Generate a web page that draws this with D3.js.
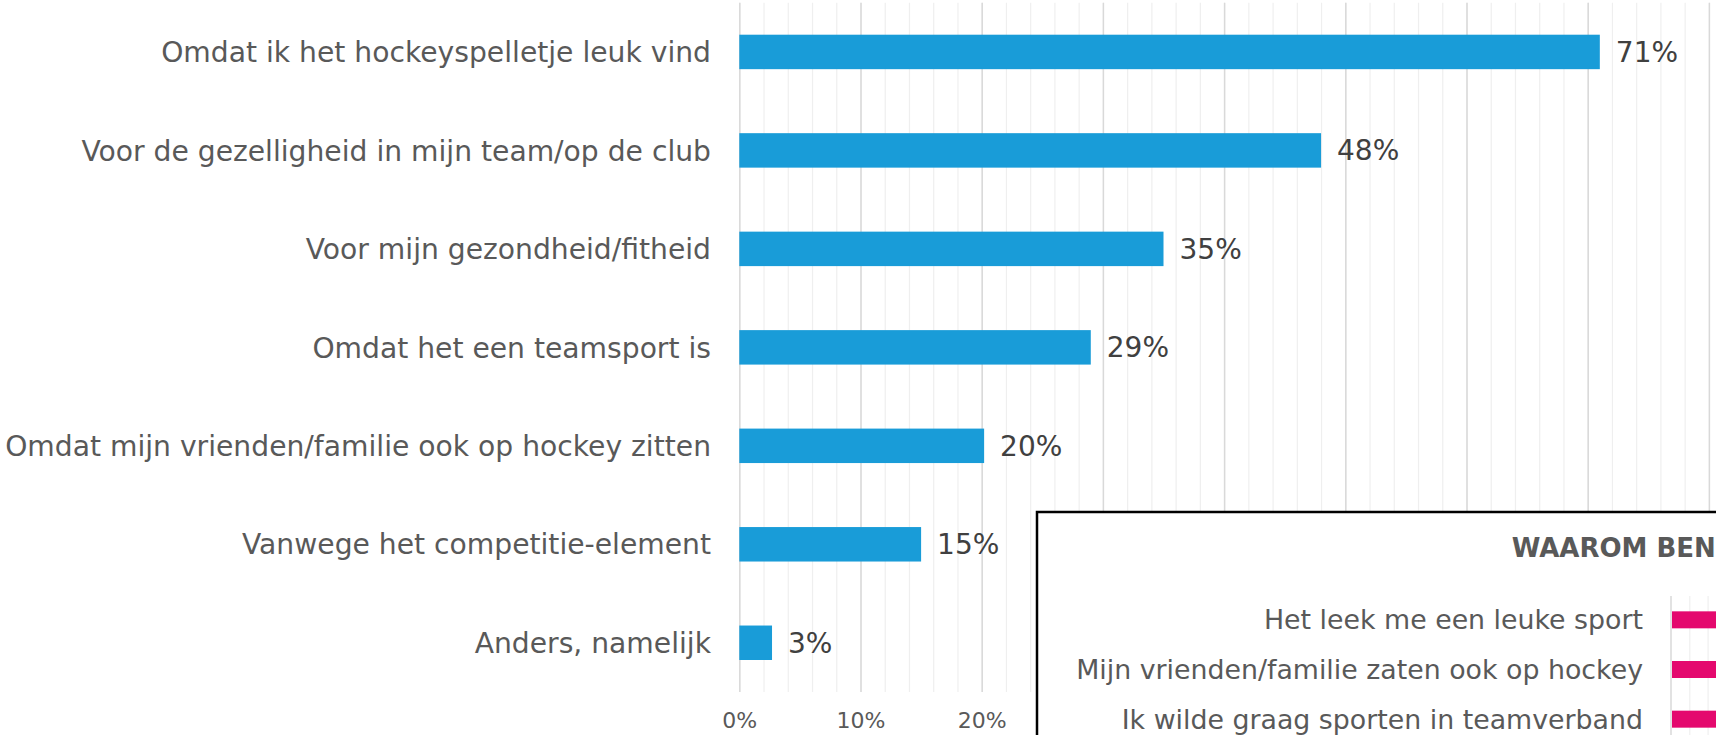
<!DOCTYPE html>
<html>
<head>
<meta charset="utf-8">
<script src="https://cdn.jsdelivr.net/npm/d3@7"></script>
<style>
  body { margin: 0; background: #fff; }
  svg { display: block; font-family: "DejaVu Sans", Verdana, sans-serif; }
</style>
</head>
<body>
<svg id="chart" width="1716" height="735"></svg>
<script>
// main chart data
const reasons = [
  "Omdat ik het hockeyspelletje leuk vind",
  "Voor de gezelligheid in mijn team/op de club",
  "Voor mijn gezondheid/fitheid",
  "Omdat het een teamsport is",
  "Omdat mijn vrienden/familie ook op hockey zitten",
  "Vanwege het competitie-element",
  "Anders, namelijk"
];
const reasonValues = [71, 48, 35, 29, 20.2, 15, 2.7];
const gridTicks = [0, 10, 20, 30, 40, 50, 60, 70, 80, 90, 100];
// only these tick labels are visible, the rest sit behind the inset panel
const tickLabels = ["0%", "10%", "20%"];

// inset chart data (mostly cut off at the right edge)
const insetTitle = "WAAROM BEN JIJ GAAN HOCKEYEN?";
const insetReasons = [
  "Het leek me een leuke sport",
  "Mijn vrienden/familie zaten ook op hockey",
  "Ik wilde graag sporten in teamverband"
];
const insetValues = [55, 40, 30];

const svg = d3.select("#chart");

const x = d3.scaleLinear().domain([0, 100]).range([739.3, 739.3 + 1212]);
const y = d3.scaleBand()
  .domain(reasons)
  .range([2.7, 692])
  .paddingInner(0.65)
  .paddingOuter(0.325);

// minor gridlines every 2%
svg.append("g")
  .attr("transform", "translate(0,692)")
  .call(d3.axisBottom(x).tickValues(d3.range(0, 101, 2)).tickSize(-689.3).tickFormat(""))
  .call(g => g.select(".domain").remove())
  .call(g => g.selectAll("line").attr("stroke", "#efefef").attr("stroke-width", 1.2));

// major gridlines
svg.append("g")
  .attr("transform", "translate(0,692)")
  .call(d3.axisBottom(x).tickValues(gridTicks).tickSize(-689.3).tickFormat(""))
  .call(g => g.select(".domain").remove())
  .call(g => g.selectAll("line").attr("stroke", "#d9d9d9").attr("stroke-width", 1.5));

// tick labels
svg.append("g")
  .attr("transform", "translate(0,692)")
  .call(d3.axisBottom(x).tickValues([0, 10, 20]).tickSize(0).tickPadding(20)
    .tickFormat((d, i) => tickLabels[i]))
  .call(g => g.select(".domain").remove())
  .call(g => g.selectAll("text")
    .attr("fill", "#595959")
    .style("font-size", "22px")
    .style("font-family", "DejaVu Sans"));

// bars
svg.append("g")
  .selectAll("rect")
  .data(reasonValues)
  .enter()
  .append("rect")
  .attr("x", x(0))
  .attr("y", (d, i) => y(reasons[i]))
  .attr("width", d => x(d) - x(0))
  .attr("height", y.bandwidth())
  .attr("fill", "#199cd8");

// value labels
svg.append("g")
  .selectAll("text")
  .data(reasonValues)
  .enter()
  .append("text")
  .attr("x", d => x(d) + 16)
  .attr("y", (d, i) => y(reasons[i]) + y.bandwidth() / 2)
  .attr("dy", "0.36em")
  .attr("fill", "#404040")
  .style("font-size", "28px")
  .text(d => Math.round(d) + "%");

// category labels
svg.append("g")
  .selectAll("text")
  .data(reasons)
  .enter()
  .append("text")
  .attr("x", 711)
  .attr("y", d => y(d) + y.bandwidth() / 2)
  .attr("dy", "0.36em")
  .attr("text-anchor", "end")
  .attr("fill", "#595959")
  .style("font-size", "28.2px")
  .text(d => d);

// inset panel
svg.append("rect")
  .attr("x", 1037)
  .attr("y", 512)
  .attr("width", 720)
  .attr("height", 260)
  .attr("fill", "#fff")
  .attr("stroke", "#000")
  .attr("stroke-width", 2.5);

svg.append("text")
  .attr("x", 1511.7)
  .attr("y", 557.3)
  .attr("fill", "#595959")
  .style("font-size", "26px")
  .style("font-weight", "bold")
  .text(insetTitle);

const xi = d3.scaleLinear().domain([0, 100]).range([1671, 1671 + 366]);
const yi = d3.scaleBand()
  .domain(insetReasons)
  .range([595, 744])
  .paddingInner(0.658)
  .paddingOuter(0.329);

svg.append("g")
  .attr("transform", "translate(0,735)")
  .call(d3.axisBottom(xi).tickValues(d3.range(5, 101, 5)).tickSize(-139).tickFormat(""))
  .call(g => g.select(".domain").remove())
  .call(g => g.selectAll("line").attr("stroke", "#efefef").attr("stroke-width", 1.2));

svg.append("line")
  .attr("x1", xi(0))
  .attr("x2", xi(0))
  .attr("y1", 596)
  .attr("y2", 735)
  .attr("stroke", "#d9d9d9")
  .attr("stroke-width", 1.5);

svg.append("g")
  .selectAll("rect")
  .data(insetValues)
  .enter()
  .append("rect")
  .attr("x", xi(0) + 1)
  .attr("y", (d, i) => yi(insetReasons[i]))
  .attr("width", d => xi(d) - xi(0))
  .attr("height", yi.bandwidth())
  .attr("fill", "#e4096e");

svg.append("g")
  .selectAll("text")
  .data(insetReasons)
  .enter()
  .append("text")
  .attr("x", 1643)
  .attr("y", d => yi(d) + yi.bandwidth() / 2)
  .attr("dy", "0.36em")
  .attr("text-anchor", "end")
  .attr("fill", "#595959")
  .style("font-size", "26.8px")
  .text(d => d);
</script>
</body>
</html>
